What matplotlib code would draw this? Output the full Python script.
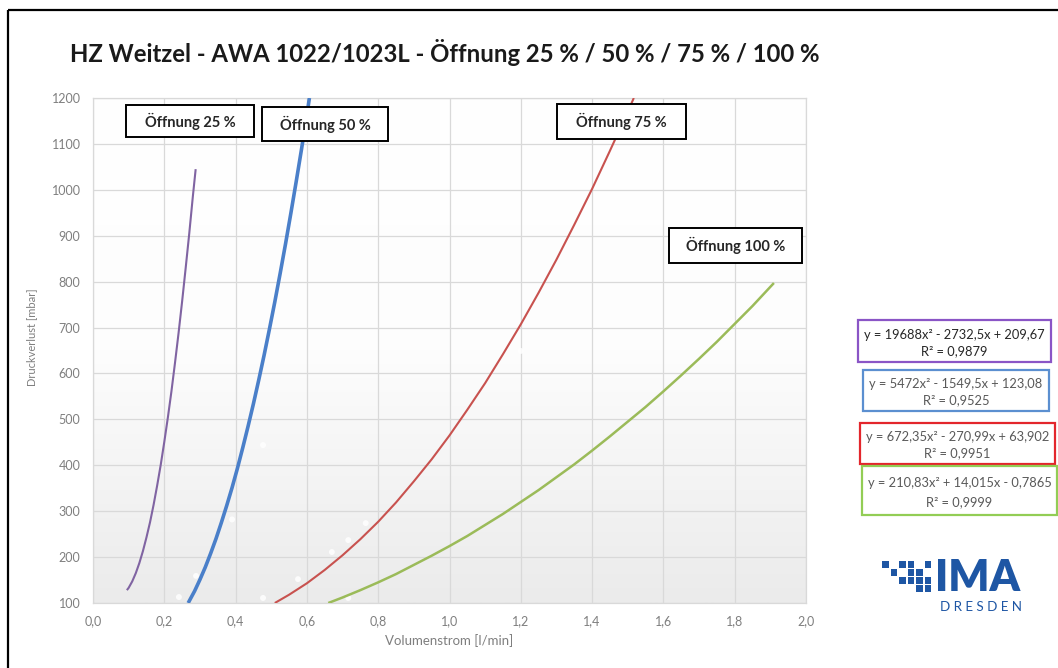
import numpy as np
import matplotlib
matplotlib.use("Agg")
import matplotlib.pyplot as plt
from matplotlib.patches import Rectangle
from matplotlib.colors import LinearSegmentedColormap
from matplotlib.ticker import FuncFormatter, MultipleLocator

plt.rcParams['font.family'] = ['Lato', 'DejaVu Sans']

# trend curves (Volumenstrom l/min, Druckverlust mbar)
x25 = [0.095, 0.10, 0.11, 0.12, 0.13, 0.14, 0.15, 0.16, 0.17, 0.18, 0.19, 0.20,
       0.21, 0.22, 0.23, 0.24, 0.25, 0.26, 0.27, 0.28, 0.288]
y25 = [128, 133, 147, 165, 187, 213, 243, 276, 314, 356, 401, 451,
       504, 561, 623, 688, 757, 830, 905, 985, 1045]

x50 = [0.267, 0.285, 0.30, 0.315, 0.33, 0.345, 0.36, 0.375, 0.39, 0.405, 0.42, 0.435,
       0.45, 0.465, 0.48, 0.495, 0.51, 0.525, 0.54, 0.555, 0.57, 0.585, 0.60, 0.607]
y50 = [100, 126, 151, 178, 208, 240, 275, 312, 351, 393, 438, 485,
       534, 586, 640, 697, 756, 818, 882, 949, 1018, 1089, 1163, 1200]

x75 = [0.51, 0.55, 0.6, 0.65, 0.7, 0.75, 0.8, 0.85, 0.9, 0.95, 1.0, 1.05, 1.1,
       1.15, 1.2, 1.25, 1.3, 1.35, 1.4, 1.45, 1.5, 1.517]
y75 = [100, 118, 143, 172, 204, 239, 277, 319, 365, 413, 465, 521, 579,
       642, 707, 776, 848, 924, 1002, 1085, 1170, 1200]

x100 = [0.66, 0.7, 0.75, 0.8, 0.85, 0.9, 0.95, 1.0, 1.05, 1.1, 1.15, 1.2, 1.25, 1.3,
        1.35, 1.4, 1.45, 1.5, 1.55, 1.6, 1.65, 1.7, 1.75, 1.8, 1.85, 1.91]
y100 = [100, 112, 128, 145, 163, 183, 203, 224, 246, 270, 294, 320, 346, 374,
        402, 432, 463, 495, 527, 561, 596, 632, 669, 708, 747, 797]

# faint white measuring points
pts_x = [0.241, 0.289, 0.39, 0.477, 0.477, 0.575, 0.67, 0.716, 0.765, 0.716, 1.2]
pts_y = [113, 159, 282, 111, 444, 152, 211, 237, 274, 111, 649]

curve_names = ['Öffnung 25 %', 'Öffnung 50 %', 'Öffnung 75 %', 'Öffnung 100 %']
equations = ['y = 19688x² - 2732,5x + 209,67', 'y = 5472x² - 1549,5x + 123,08',
             'y = 672,35x² - 270,99x + 63,902', 'y = 210,83x² + 14,015x - 0,7865']
r_squared = ['R² = 0,9879', 'R² = 0,9525', 'R² = 0,9951', 'R² = 0,9999']

fig = plt.figure(figsize=(10.58, 6.68), dpi=100)
W, H = 1058, 668
ax = fig.add_axes([93 / W, (H - 603) / H, 713 / W, 505 / H])

# plot area: white at the top fading to light grey at the bottom
grad = LinearSegmentedColormap.from_list('bg', ['#FFFFFF', '#FDFDFD', '#EBEBEB'])
ax.imshow(np.linspace(0, 1, 256).reshape(-1, 1), cmap=grad, aspect='auto',
          origin='upper', extent=[0, 2, 100, 1200], zorder=0)

kw = dict(zorder=3, solid_joinstyle='round', solid_capstyle='butt')
ax.plot(x25, y25, color='#8064A2', lw=1.5, **kw)
ax.plot(x50, y50, color='#4A7FC9', lw=2.6, **kw)
ax.plot(x75, y75, color='#C8524F', lw=1.5, **kw)
ax.plot(x100, y100, color='#9BBB59', lw=1.8, **kw)
ax.scatter(pts_x, pts_y, s=18, color='white', alpha=0.85, edgecolor='none', zorder=2)

ax.set_xlim(0, 2.0)
ax.set_ylim(100, 1200)
ax.xaxis.set_major_locator(MultipleLocator(0.2))
ax.yaxis.set_major_locator(MultipleLocator(100))
ax.xaxis.set_major_formatter(FuncFormatter(lambda v, p: f'{v:.1f}'.replace('.', ',')))
ax.grid(True, color='#D9D9D9', lw=0.9, zorder=1)
ax.set_axisbelow(True)
for s in ax.spines.values():
    s.set_color('#D9D9D9')
    s.set_linewidth(0.9)
ax.tick_params(length=0, labelsize=9, labelcolor='#7F7F7F')
ax.tick_params(axis='x', pad=9)
ax.tick_params(axis='y', pad=9)
ax.set_xlabel('Volumenstrom [l/min]', fontsize=9.5, color='#7F7F7F', labelpad=5)
ax.set_ylabel('Druckverlust [mbar]', fontsize=8, color='#7F7F7F')
ax.yaxis.set_label_coords(-0.079, 0.527)

# overlay in pixel coordinates for frame, title, labels and logo
ov = fig.add_axes([0, 0, 1, 1], zorder=5)
ov.set_xlim(0, W)
ov.set_ylim(H, 0)
ov.axis('off')

ov.add_patch(Rectangle((8, 10), 1100, 700, fill=False, ec='black', lw=1.6))
ov.text(70, 53, 'HZ Weitzel - AWA 1022/1023L - Öffnung 25 % / 50 % / 75 % / 100 %',
        fontsize=17.2, fontweight='bold', color='#1A1A1A', va='center', ha='left')

label_boxes = [(126, 105, 128, 32), (262, 107, 126, 34), (557, 104, 129, 35), (669, 228, 133, 35)]
for name, (bx, by, bw, bh) in zip(curve_names, label_boxes):
    ov.add_patch(Rectangle((bx, by), bw, bh, fc='white', ec='black', lw=1.4))
    ov.text(bx + bw / 2, by + bh / 2, name, fontsize=10.5, fontweight='bold',
            color='#262626', ha='center', va='center')

eq_boxes = [(858, 320, 193, 42), (863, 370, 186, 41), (860, 423, 195, 41), (862, 466, 195, 49)]
eq_edges = ['#8A55C6', '#5B8FD0', '#E3262C', '#92CD55']
eq_text = ['#262626', '#595959', '#595959', '#595959']
for eq, r2, (bx, by, bw, bh), ec, tc in zip(equations, r_squared, eq_boxes, eq_edges, eq_text):
    ov.add_patch(Rectangle((bx, by), bw, bh, fc='white', ec=ec, lw=1.6))
    ov.text(bx + bw / 2, by + bh * 0.35, eq, fontsize=9.3, color=tc, ha='center', va='center')
    ov.text(bx + bw / 2, by + bh * 0.74, r2, fontsize=9.3, color=tc, ha='center', va='center')

# IMA Dresden logo
logo = '#1E56A4'
cols = [882, 890.5, 899, 907.5, 916, 924.5]
rows = [561, 569, 577, 585]
cells = [(0, 0), (0, 2), (0, 3), (0, 5), (1, 1), (1, 3), (1, 4),
         (2, 2), (2, 3), (2, 4), (2, 5), (3, 4), (3, 5)]
for r, c in cells:
    ov.add_patch(Rectangle((cols[c], rows[r]), 6.5, 6.5, fc=logo, ec='none'))
ov.text(935, 578, 'IMA', fontsize=31, fontweight='heavy', color=logo, ha='left', va='center')
ov.text(981, 607, 'D R E S D E N', fontsize=9.6, color=logo, ha='center', va='center')

fig.savefig('out.png', dpi=100)
